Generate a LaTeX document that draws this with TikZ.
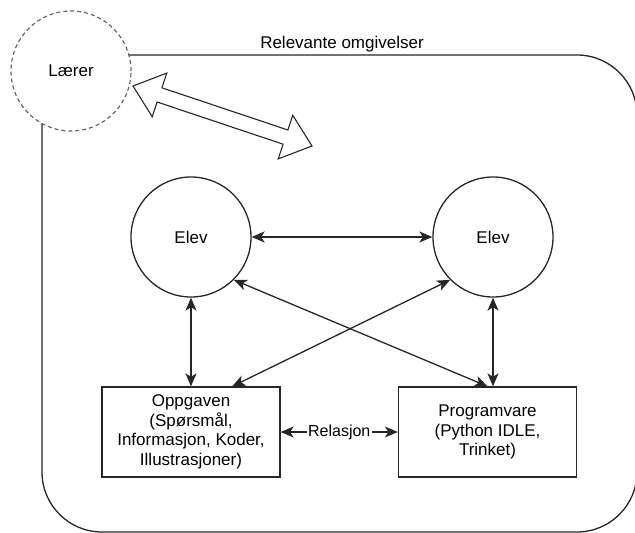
\documentclass[tikz,border=0pt]{standalone}
\usepackage{fontspec}
\setmainfont{Liberation Sans}
\usetikzlibrary{arrows.meta,calc}
\begin{document}
\begin{tikzpicture}[x=1pt,y=-1pt,
  font=\fontsize{17}{19.5}\selectfont,
  ln/.style={line width=1.3pt, draw=black!85},
  elevc/.style={circle, ln, minimum size=120pt, inner sep=0pt},
  boxn/.style={rectangle, ln, minimum width=178pt, minimum height=90pt, align=center, inner sep=2pt},
  conn/.style={ln, {Stealth[length=13pt,width=11pt,inset=3.5pt]}-{Stealth[length=13pt,width=11pt,inset=3.5pt]}},
  lbl/.style={fill=white, font=\fontsize{16}{18}\selectfont, inner sep=1.5pt},
  teacher/.style={circle, minimum size=120pt, inner sep=0pt, draw=black!60, fill=white, line width=1.2pt, dash pattern=on 4pt off 3pt},
  bigarrow/.style={line width=1.1pt, draw=black!85, fill=white, line join=miter},
]
\useasboundingbox (0,0) rectangle (635,533);
% environment frame
\draw[ln, rounded corners=60pt] (42,55) rectangle (637,532);
\node[anchor=base] (title) at (342,48) {Relevante omgivelser};
% teacher
\node[teacher] (laerer) at (71,71) {Lærer};
% big hollow double arrow
\draw[bigarrow] (133,86) -- (166.8,73.1) -- (161.9,87.8) -- (287.9,130.0) -- (292.8,115.3) -- (312,146) -- (278.2,158.9) -- (283.1,144.2) -- (157.1,102.0) -- (152.2,116.7) -- cycle;
% students
\node[elevc] (el) at (191,237) {Elev};
\node[elevc] (er) at (493,237) {Elev};
% boxes
\node[boxn] (opp) at (191,432) {Oppgaven\\(Spørsmål,\\Informasjon, Koder,\\Illustrasjoner)};
\node[boxn] (prog) at (487.5,432) {Programvare\\(Python IDLE,\\Trinket)};
\coordinate (oppin) at ($(opp.north west)!0.73!(opp.north east)$);
% connectors
\draw[conn] (el) -- (er);
\draw[conn] (el.south) -- (el.south |- opp.north);
\draw[conn] (er.south) -- (er.south |- prog.north);
\draw[conn] (el.south east) -- (prog.north);
\draw[conn] (er.south west) -- (oppin);
\draw[conn] (opp) -- node[lbl] (rel) {Relasjon} (prog);
\end{tikzpicture}
\end{document}
